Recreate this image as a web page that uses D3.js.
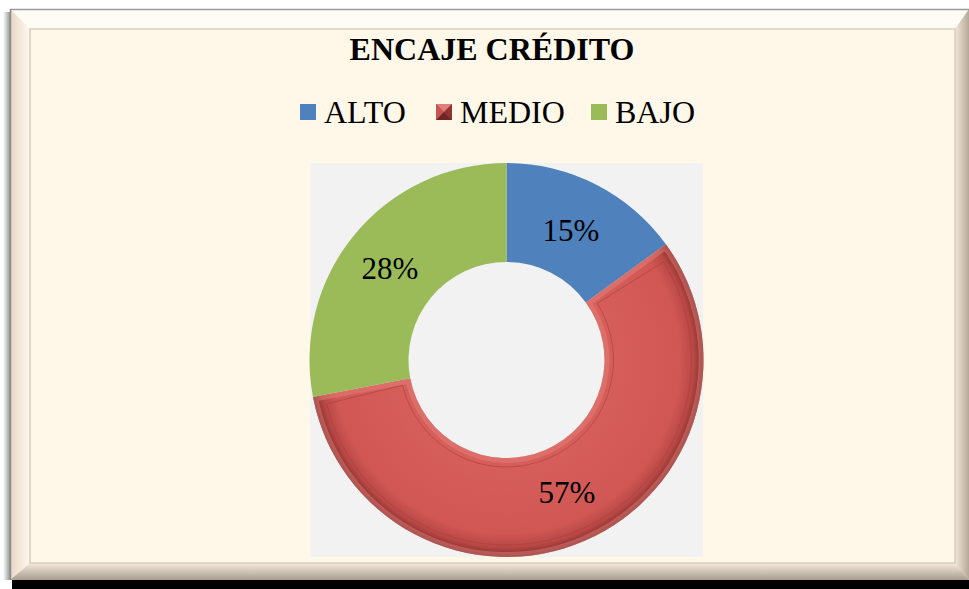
<!DOCTYPE html>
<html>
<head>
<meta charset="utf-8">
<script src="https://cdn.jsdelivr.net/npm/d3@7"></script>
<style>
  html, body { margin: 0; padding: 0; background: #fff; }
  svg { display: block; }
  text { font-family: 'Liberation Serif', 'Times New Roman', serif; }
</style>
</head>
<body>
<div id="chart"></div>
<script>
const categories = ['ALTO', 'MEDIO', 'BAJO'];
const values = [15, 57, 28];
const colors = ['#4F81BD', '#D05652', '#9BBB59'];
const title = 'ENCAJE CRÉDITO';

const W = 969, H = 589;
const svg = d3.select('#chart').append('svg')
  .attr('width', W).attr('height', H);
const defs = svg.append('defs');

// frame / shadow
svg.append('rect').attr('x', 12).attr('y', 580).attr('width', W - 12).attr('height', 9).attr('fill', '#000');
const sh = defs.append('linearGradient').attr('id', 'lsh');
sh.append('stop').attr('offset', 0).attr('stop-color', '#fff');
sh.append('stop').attr('offset', 1).attr('stop-color', '#888');
svg.append('rect').attr('x', 3).attr('y', 12).attr('width', 8).attr('height', 568).attr('fill', 'url(#lsh)');

const fx = 10, fy = 9, fw = W - 10, fh = 571;
const ix = 30, iy = 29, iw = 925, ih = 534;
svg.append('rect').attr('x', fx).attr('y', fy).attr('width', fw).attr('height', fh).attr('fill', '#FFF7E8');

// bevel bands
svg.append('polygon')
  .attr('points', [[fx, fy], [fx + fw, fy], [ix + iw, iy], [ix, iy]].join(' '))
  .attr('fill', '#FFFCF6');
const lg = defs.append('linearGradient').attr('id', 'lft');
lg.append('stop').attr('offset', 0).attr('stop-color', '#E8D8C4');
lg.append('stop').attr('offset', 1).attr('stop-color', '#FFF8EE');
svg.append('polygon')
  .attr('points', [[fx, fy], [ix, iy], [ix, iy + ih], [fx, fy + fh]].join(' '))
  .attr('fill', 'url(#lft)');
const rgd = defs.append('linearGradient').attr('id', 'rgt');
rgd.append('stop').attr('offset', 0).attr('stop-color', '#F2E6D6');
rgd.append('stop').attr('offset', 1).attr('stop-color', '#B5A898');
svg.append('polygon')
  .attr('points', [[fx + fw, fy], [fx + fw, fy + fh], [ix + iw, iy + ih], [ix + iw, iy]].join(' '))
  .attr('fill', 'url(#rgt)');
const bg = defs.append('linearGradient').attr('id', 'bot').attr('x1', 0).attr('x2', 0).attr('y1', 0).attr('y2', 1);
bg.append('stop').attr('offset', 0).attr('stop-color', '#F6EBDD');
bg.append('stop').attr('offset', 1).attr('stop-color', '#A89C8E');
svg.append('polygon')
  .attr('points', [[fx, fy + fh], [ix, iy + ih], [ix + iw, iy + ih], [fx + fw, fy + fh]].join(' '))
  .attr('fill', 'url(#bot)');
svg.append('line').attr('x1', fx).attr('x2', fx + fw).attr('y1', fy + 0.5).attr('y2', fy + 0.5)
  .attr('stroke', '#9a9a9a').attr('stroke-width', 1.5);
svg.append('line').attr('x1', fx + 0.5).attr('x2', fx + 0.5).attr('y1', fy).attr('y2', fy + fh)
  .attr('stroke', '#8a8a8a').attr('stroke-width', 1.5);

svg.append('rect').attr('x', ix).attr('y', iy).attr('width', iw).attr('height', ih)
  .attr('fill', '#FFF7E8').attr('stroke', '#D8CCBE').attr('stroke-width', 1.5);

// title
svg.append('text')
  .attr('x', 492).attr('y', 60)
  .attr('text-anchor', 'middle')
  .attr('font-weight', 'bold').attr('font-size', 32)
  .attr('fill', '#000')
  .text(title);

// legend
const legendX = [300, 436, 591];
const legend = svg.append('g').attr('font-size', 32);
categories.forEach((c, i) => {
  const g = legend.append('g').attr('transform', `translate(${legendX[i]},104)`);
  if (c === 'MEDIO') {
    const s = 16, m = s / 2;
    g.append('rect').attr('width', s).attr('height', s).attr('fill', '#C0504D');
    g.append('polygon').attr('points', `0,0 ${s},0 ${m},${m}`).attr('fill', '#E0807D');
    g.append('polygon').attr('points', `0,0 0,${s} ${m},${m}`).attr('fill', '#C95552');
    g.append('polygon').attr('points', `${s},0 ${s},${s} ${m},${m}`).attr('fill', '#8E3532');
    g.append('polygon').attr('points', `0,${s} ${s},${s} ${m},${m}`).attr('fill', '#6E2624');
  } else {
    g.append('rect').attr('width', 16).attr('height', 16).attr('fill', colors[i]);
  }
  g.append('text').attr('x', 24).attr('y', 19).attr('fill', '#000').text(c);
});

// plot area
const px = 310, py = 163, pw = 393, ph = 394;
svg.append('rect').attr('x', px).attr('y', py).attr('width', pw).attr('height', ph).attr('fill', '#F2F2F2');

const cx = px + pw / 2, cy = py + ph / 2;
const R = 197, r = 98;
const pie = d3.pie().sort(null).value((d) => d)(values);
const arc = d3.arc().innerRadius(r).outerRadius(R);

const rg = defs.append('radialGradient').attr('id', 'redShade')
  .attr('gradientUnits', 'userSpaceOnUse').attr('cx', 0).attr('cy', 0).attr('r', R);
rg.append('stop').attr('offset', 0.5).attr('stop-color', '#D65E5B');
rg.append('stop').attr('offset', 0.88).attr('stop-color', '#D05754');
rg.append('stop').attr('offset', 0.95).attr('stop-color', '#B94845');
rg.append('stop').attr('offset', 1).attr('stop-color', '#7E2C2A');

const donut = svg.append('g').attr('transform', `translate(${cx},${cy})`);
donut.selectAll('path.slice')
  .data(pie)
  .join('path')
  .attr('class', 'slice')
  .attr('d', arc)
  .attr('fill', (d, i) => (categories[i] === 'MEDIO' ? 'url(#redShade)' : colors[i]));

// bevel on MEDIO slice
const mid = pie[1];
defs.append('clipPath').attr('id', 'midClip').append('path')
  .attr('d', arc(mid)).attr('transform', `translate(${cx},${cy})`);
const bevel = svg.append('g').attr('clip-path', 'url(#midClip)')
  .append('g').attr('transform', `translate(${cx},${cy})`);
bevel.append('path').attr('d', arc(mid))
  .attr('fill', 'none').attr('stroke', '#E7847F').attr('stroke-width', 10).attr('opacity', 0.45);
const inset = d3.arc().innerRadius(r + 9).outerRadius(R - 12)
  .startAngle(mid.startAngle + 0.07).endAngle(mid.endAngle - 0.05);
bevel.append('path').attr('d', inset())
  .attr('fill', 'none').attr('stroke', '#A8403D').attr('stroke-width', 1).attr('opacity', 0.6);

// data labels
const labelPos = [[571, 241], [567, 503], [390, 279]];
svg.append('g')
  .attr('font-size', 31)
  .attr('text-anchor', 'middle').attr('fill', '#000')
  .selectAll('text')
  .data(pie)
  .join('text')
  .attr('x', (d) => labelPos[d.index][0])
  .attr('y', (d) => labelPos[d.index][1])
  .text((d) => `${d.data}%`);
</script>
</body>
</html>
